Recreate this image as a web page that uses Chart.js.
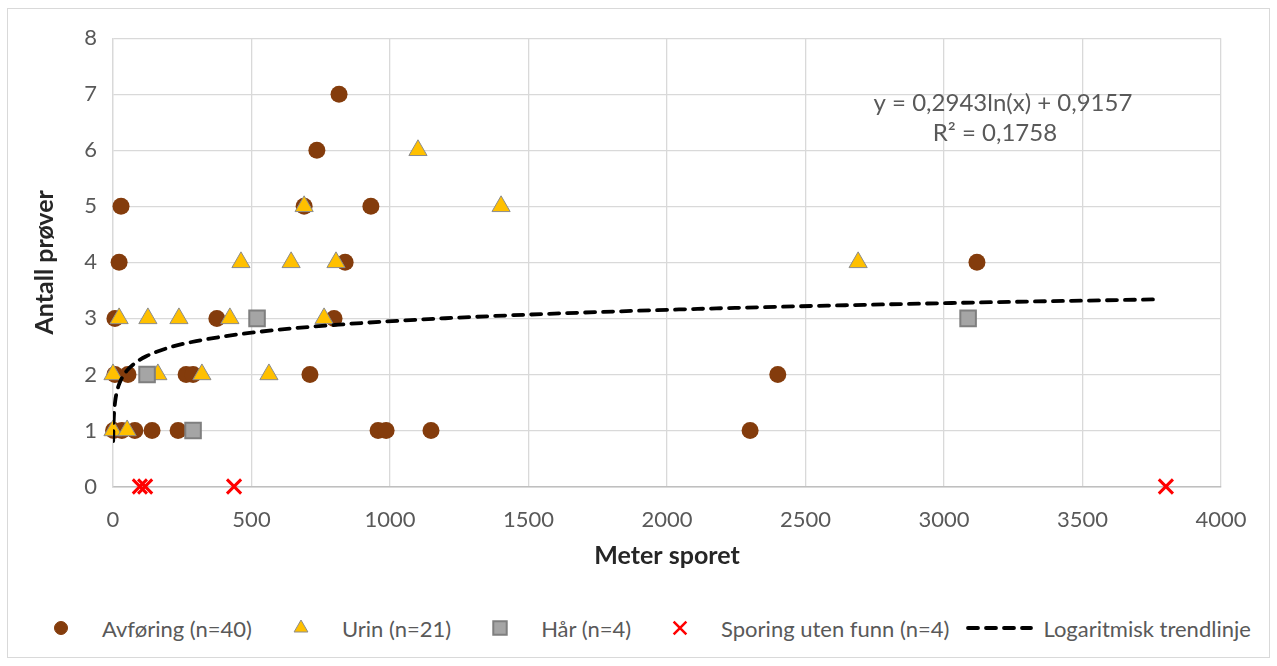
<!DOCTYPE html>
<html>
<head>
<meta charset="utf-8">
<script src="https://cdn.jsdelivr.net/npm/chart.js@4"></script>
<style>
  body { margin: 0; background: #fff; }
  #wrap { position: absolute; left: 7px; top: 8px; width: 1261px; height: 648px; border: 1px solid #d9d9d9; }
  #box { position: relative; width: 1261px; height: 590px; }
  #legend { display: flex; align-items: center; height: 58px; padding-left: 39px;
            font-family: Lato, sans-serif; font-size: 22px; color: #595959; white-space: nowrap; }
  #legend .item { display: flex; align-items: center; }
  #legend canvas { display: block; }
</style>
</head>
<body>
<div id="wrap">
  <div id="box"><canvas id="chart"></canvas></div>
  <div id="legend"></div>
</div>
<script>
'use strict';

// values
var avforingX = [816, 736, 29, 690, 931, 22, 838, 3119, 7, 375, 798, 7, 54, 264, 289, 711, 2400, 2, 32, 79, 141, 235, 957, 986, 1148, 2300];
var avforingY = [7, 6, 5, 5, 5, 4, 4, 4, 3, 3, 3, 2, 2, 2, 2, 2, 2, 1, 1, 1, 1, 1, 1, 1, 1, 1];

var urinX = [1101, 690, 1401, 462, 643, 805, 2690, 22, 126, 238, 422, 762, 0, 162, 321, 563, 0, 51];
var urinY = [6, 5, 5, 4, 4, 4, 4, 3, 3, 3, 3, 3, 2, 2, 2, 2, 1, 1];

var harX = [520, 123, 289, 3087];
var harY = [3, 2, 1, 3];

var sporingX = [97, 116, 437, 3801];
var sporingY = [0, 0, 0, 0];

// logarithmic trendline as printed on the chart
var trendA = 0.2943;
var trendB = 0.9157;
var trendX = [0.7, 1, 1.5, 2, 3, 5, 8, 12, 20, 30, 50, 80, 120, 200, 300, 500, 800, 1200, 2000, 3000, 3780];
var trendText = ['y = 0,2943ln(x) + 0,9157', 'R\u00b2 = 0,1758'];
var trendTextAt = [3202, 6.57];

var xTicks = [0, 500, 1000, 1500, 2000, 2500, 3000, 3500, 4000];
var yTicks = [0, 1, 2, 3, 4, 5, 6, 7, 8];

var labels = ['Avføring (n=40)', 'Urin (n=21)', 'Hår (n=4)', 'Sporing uten funn (n=4)', 'Logaritmisk trendlinje'];

function toPoints(xs, ys) {
  return xs.map(function (x, i) { return { x: x, y: ys[i] }; });
}

var trendPoints = trendX.map(function (x) { return { x: x, y: trendA * Math.log(x) + trendB }; });

Chart.defaults.font.family = 'Lato, sans-serif';
Chart.defaults.color = '#595959';

var eqPlugin = {
  id: 'eqLabel',
  afterDatasetsDraw: function (chart) {
    var ctx = chart.ctx;
    var cx = chart.scales.x.getPixelForValue(trendTextAt[0]);
    var cy = chart.scales.y.getPixelForValue(trendTextAt[1]);
    ctx.save();
    ctx.font = '24px Lato, sans-serif';
    ctx.fillStyle = '#595959';
    ctx.textAlign = 'center';
    ctx.textBaseline = 'middle';
    ctx.fillText(trendText[0], cx + 3, cy - 15);
    ctx.fillText(trendText[1], cx - 5, cy + 15);
    ctx.restore();
  }
};

function plain(v) { return String(v); }

var chart = new Chart(document.getElementById('chart'), {
  type: 'scatter',
  data: {
    datasets: [
      { label: labels[0], data: toPoints(avforingX, avforingY), order: 4, clip: false,
        pointStyle: 'circle', pointRadius: 8.5, backgroundColor: '#843c0c', borderColor: '#843c0c', borderWidth: 0,
        legendRadius: 6.5 },
      { label: labels[1], data: toPoints(urinX, urinY), order: 3, clip: false,
        pointStyle: 'triangle', pointRadius: 10.5, backgroundColor: '#ffc000', borderColor: '#8c8c8c', borderWidth: 1,
        legendRadius: 8 },
      { label: labels[2], data: toPoints(harX, harY), order: 2, clip: false,
        pointStyle: 'rect', pointRadius: 11, backgroundColor: '#a5a5a5', borderColor: '#7f7f7f', borderWidth: 2,
        legendRadius: 9.5 },
      { label: labels[3], data: toPoints(sporingX, sporingY), order: 1, clip: false,
        pointStyle: 'crossRot', pointRadius: 10, backgroundColor: '#ff0000', borderColor: '#ff0000', borderWidth: 3,
        legendRadius: 9 },
      { label: labels[4], data: trendPoints, order: 0, showLine: true, pointRadius: 0,
        borderColor: '#000', borderWidth: 3.8, borderDash: [10, 8], borderCapStyle: 'round',
        cubicInterpolationMode: 'monotone' }
    ]
  },
  options: {
    responsive: true,
    maintainAspectRatio: false,
    animation: false,
    events: [],
    layout: { padding: { top: 29, right: 48, left: 0, bottom: 0 } },
    plugins: { legend: { display: false }, tooltip: { enabled: false } },
    scales: {
      x: {
        type: 'linear', min: 0, max: 4000,
        afterFit: function (s) { s.height = 112.5; },
        afterBuildTicks: function (s) { s.ticks = xTicks.map(function (v) { return { value: v }; }); },
        grid: { color: '#d9d9d9', lineWidth: 1.3, drawTicks: false },
        border: { color: '#bfbfbf', width: 1.5 },
        ticks: { padding: 20, font: { size: 22 }, color: '#595959', callback: plain },
        title: { display: true, text: 'Meter sporet', color: '#262626',
                 font: { size: 25, weight: 'bold' }, padding: { top: 0, bottom: 28 } }
      },
      y: {
        type: 'linear', min: 0, max: 8,
        afterFit: function (s) { s.width = 105; },
        afterBuildTicks: function (s) { s.ticks = yTicks.map(function (v) { return { value: v }; }); },
        grid: { color: '#d9d9d9', lineWidth: 1.3, drawTicks: false },
        border: { color: '#d9d9d9', width: 1.3 },
        ticks: { padding: 16, font: { size: 22 }, color: '#595959', callback: plain },
        title: { display: true, text: 'Antall prøver', color: '#262626',
                 font: { size: 25, weight: 'bold' }, padding: { top: 22, bottom: 0 } }
      }
    }
  },
  plugins: [eqPlugin]
});

// html legend built from the datasets
function buildLegend(chart) {
  var box = document.getElementById('legend');
  chart.data.datasets.forEach(function (ds, i) {
    var item = document.createElement('span');
    item.className = 'item';
    var isLine = !!ds.showLine;
    var c = document.createElement('canvas');
    c.width = isLine ? 67 : 28;
    c.height = 22;
    var g = c.getContext('2d');
    if (isLine) {
      g.strokeStyle = ds.borderColor;
      g.lineWidth = ds.borderWidth;
      g.lineCap = ds.borderCapStyle;
      g.setLineDash(ds.borderDash);
      g.beginPath();
      g.moveTo(2, 11);
      g.lineTo(65, 11);
      g.stroke();
    } else {
      g.fillStyle = ds.backgroundColor;
      g.strokeStyle = ds.borderColor;
      g.lineWidth = ds.pointStyle === 'crossRot' ? 2.5 : ds.borderWidth;
      Chart.helpers.drawPoint(g, { pointStyle: ds.pointStyle, radius: ds.legendRadius, rotation: 0, borderWidth: g.lineWidth }, 14, 11);
    }
    var t = document.createElement('span');
    t.textContent = ds.label;
    t.style.marginLeft = isLine ? '10px' : '27px';
    if (i > 0) item.style.marginLeft = isLine ? '17px' : '35px';
    item.appendChild(c);
    item.appendChild(t);
    box.appendChild(item);
  });
}
buildLegend(chart);
</script>
</body>
</html>
